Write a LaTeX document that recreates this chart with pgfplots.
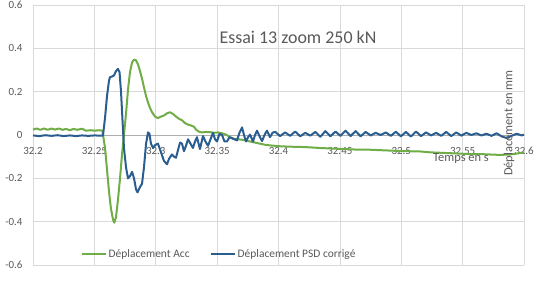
\documentclass[border=0pt]{standalone}
\usepackage{pgfplots}
\pgfplotsset{compat=1.18}
\usepackage{fontspec}
\setmainfont{Carlito}
\definecolor{accgreen}{HTML}{70AD47}
\definecolor{psdblue}{HTML}{2A5D90}
\definecolor{txtgray}{HTML}{595959}
\definecolor{gridgray}{HTML}{D9D9D9}
\begin{document}
\begin{tikzpicture}
\useasboundingbox (-33bp,-19bp) rectangle (507bp,265bp);
\begin{axis}[
  at={(0,0)}, anchor=south west,
  scale only axis, width=491bp, height=260bp,
  xmin=32.2, xmax=32.6, ymin=-0.6, ymax=0.6,
  axis x line=middle, axis y line=left,
  x axis line style={-, draw=gridgray!80!black, line width=0.7bp},
  y axis line style={draw=none},
  hide obscured x ticks=false, hide obscured y ticks=false,
  grid=major, grid style={draw=gridgray, line width=0.7bp},
  major tick length=0pt, tick style={draw=none},
  xtick={32.2,32.25,32.3,32.35,32.4,32.45,32.5,32.55,32.6},
  xticklabels={32.2,32.25,32.3,32.35,32.4,32.45,32.5,32.55,32.6},
  ytick={-0.6,-0.4,-0.2,0,0.2,0.4,0.6},
  yticklabels={-0.6,-0.4,-0.2,0,0.2,0.4,0.6},
  tick label style={font=\fontsize{11}{13}\selectfont, text=txtgray},
  xticklabel style={anchor=north, yshift=-8.5bp},
  yticklabel style={anchor=east, xshift=-7bp},
  legend style={at={(0.379,0.042)}, anchor=center, draw=none, fill=none,
    font=\fontsize{11.5}{13}\selectfont, text=txtgray,
    /tikz/every even column/.append style={column sep=18bp}},
  legend columns=2, legend cell align=left,
  legend image code/.code={\draw[#1] (0bp,0bp) -- (24bp,0bp);},
  clip=false,
]
\addplot[accgreen, line width=2bp, line join=round] coordinates {
(32.200,0.025) (32.203,0.030) (32.206,0.024) (32.209,0.030) (32.212,0.024)
(32.215,0.030) (32.218,0.025) (32.221,0.030) (32.224,0.024) (32.227,0.028)
(32.230,0.022) (32.233,0.028) (32.236,0.024) (32.240,0.029) (32.243,0.020)
(32.247,0.022) (32.250,0.020) (32.254,0.022) (32.2565,0.020)
(32.2587,-0.06) (32.2603,-0.16) (32.2619,-0.26) (32.2635,-0.34) (32.2652,-0.39)
(32.2662,-0.405) (32.2676,-0.38) (32.2692,-0.30) (32.2709,-0.20) (32.2725,-0.09)
(32.2741,0.0) (32.2758,0.10) (32.2774,0.21) (32.2790,0.29) (32.2807,0.335)
(32.2823,0.348) (32.2839,0.345) (32.2856,0.325) (32.2872,0.295) (32.2888,0.26)
(32.2904,0.22) (32.2921,0.18) (32.2937,0.15) (32.2953,0.125) (32.2970,0.105)
(32.2994,0.085) (32.3018,0.078) (32.3043,0.085) (32.3067,0.09) (32.3092,0.10)
(32.3116,0.105) (32.3141,0.097) (32.3165,0.085) (32.3189,0.075) (32.3214,0.068)
(32.3238,0.055) (32.3263,0.048) (32.3287,0.044) (32.3312,0.038) (32.3328,0.025)
(32.3352,0.015) (32.3377,0.012) (32.3409,0.014) (32.3442,0.013) (32.3475,0.010)
(32.3507,0.012) (32.3540,0.008) (32.3572,0.002) (32.3605,-0.010) (32.3638,-0.018)
(32.3670,-0.020) (32.3703,-0.022) (32.3735,-0.025) (32.3768,-0.030) (32.3809,-0.035)
(32.3849,-0.040) (32.3890,-0.045) (32.3931,-0.048) (32.3972,-0.050) (32.4012,-0.052)
(32.4094,-0.054) (32.4175,-0.055) (32.4257,-0.057) (32.4338,-0.060) (32.4420,-0.062)
(32.4501,-0.064) (32.4583,-0.066) (32.4664,-0.068) (32.4746,-0.068) (32.4827,-0.070)
(32.4909,-0.072) (32.4990,-0.074) (32.5072,-0.075) (32.5153,-0.076) (32.5234,-0.080)
(32.5316,-0.082) (32.5397,-0.084) (32.5479,-0.086) (32.5560,-0.088) (32.5642,-0.088)
(32.5723,-0.090) (32.5805,-0.092) (32.5886,-0.090) (32.5951,-0.085) (32.6000,-0.080)
};
\addlegendentry{Déplacement Acc}
\addplot[psdblue, line width=2bp, line join=round] coordinates {
(32.200,-0.002) (32.205,-0.005) (32.210,-0.001) (32.215,-0.004) (32.220,-0.001)
(32.225,-0.005) (32.230,-0.002) (32.235,-0.005) (32.240,-0.002) (32.245,-0.004)
(32.250,-0.002) (32.2555,-0.003) (32.2570,-0.003)
(32.2587,0.08) (32.2603,0.18) (32.2619,0.25) (32.2627,0.267) (32.2644,0.27)
(32.2660,0.275) (32.2676,0.295) (32.2692,0.305) (32.2705,0.29) (32.2717,0.20)
(32.2729,0.07) (32.2741,-0.06) (32.2758,-0.15) (32.2774,-0.20) (32.2790,-0.19)
(32.2807,-0.17) (32.2823,-0.20) (32.2839,-0.25) (32.2851,-0.265) (32.2872,-0.24)
(32.2888,-0.225) (32.2904,-0.15) (32.2921,-0.04) (32.2937,0.012) (32.2949,0.005)
(32.2961,-0.04) (32.2978,-0.06) (32.2998,-0.045) (32.3018,-0.04) (32.3043,-0.08)
(32.3067,-0.12) (32.3092,-0.135) (32.3108,-0.11) (32.3132,-0.09) (32.3149,-0.10)
(32.3165,-0.105) (32.3181,-0.07) (32.3198,-0.035) (32.3214,-0.04) (32.3230,-0.075)
(32.3246,-0.05) (32.3263,-0.02) (32.3283,-0.04) (32.3303,-0.06) (32.3320,-0.03)
(32.3336,-0.01) (32.3360,-0.065) (32.3385,-0.005) (32.3405,-0.03) (32.3426,-0.05)
(32.3446,-0.02) (32.3466,0.01) (32.3483,-0.02) (32.3499,-0.03) (32.3519,0.005)
(32.3540,0.0) (32.3560,-0.03) (32.3580,-0.03) (32.3601,-0.01) (32.3621,-0.015)
(32.3642,-0.02) (32.3662,-0.025) (32.3682,0.01) (32.3703,0.035) (32.3719,0.0)
(32.3735,-0.03) (32.3752,-0.01) (32.3768,0.002) (32.3792,-0.03) (32.3809,0.0)
(32.3825,0.02) (32.3849,-0.01) (32.3866,-0.028) (32.3886,0.0) (32.3906,0.02)
(32.3931,-0.01) (32.3951,0.01) (32.3972,0.015) (32.4013,-0.005) (32.4054,0.012)
(32.4095,-0.004) (32.4136,0.016) (32.4177,-0.006) (32.4218,0.010) (32.4259,-0.003)
(32.4300,0.014) (32.4341,-0.008) (32.4382,0.018) (32.4423,-0.006) (32.4464,0.016)
(32.4505,-0.004) (32.4546,0.020) (32.4587,-0.005) (32.4628,0.018) (32.4669,-0.006)
(32.4710,0.014) (32.4751,-0.002) (32.4792,0.010) (32.4833,0.000) (32.4874,0.012)
(32.4915,-0.004) (32.4956,0.015) (32.4997,-0.006) (32.5038,0.014) (32.5079,-0.007)
(32.5120,0.016) (32.5161,-0.005) (32.5202,0.012) (32.5243,-0.002) (32.5284,0.010)
(32.5325,-0.004) (32.5366,0.014) (32.5407,-0.005) (32.5448,0.012) (32.5489,-0.003)
(32.5530,0.010) (32.5571,0.000) (32.5612,0.008) (32.5653,-0.002) (32.5694,0.006)
(32.5735,-0.004) (32.5776,0.008) (32.5817,-0.006) (32.5858,-0.014) (32.5899,-0.004)
(32.5940,0.006) (32.5981,-0.002) (32.6000,0.002)
};
\addlegendentry{Déplacement PSD corrigé}
\node[text=txtgray, font=\fontsize{18}{21}\selectfont] at (rel axis cs:0.5397,0.877) {Essai 13 zoom 250 kN};
\node[text=txtgray, font=\fontsize{12.5}{15}\selectfont] at (rel axis cs:0.8717,0.408) {Temps en s};
\node[text=txtgray, font=\fontsize{12.5}{15}\selectfont, rotate=90] at (rel axis cs:0.9695,0.546) {Déplacement en mm};
\end{axis}
\end{tikzpicture}
\end{document}
